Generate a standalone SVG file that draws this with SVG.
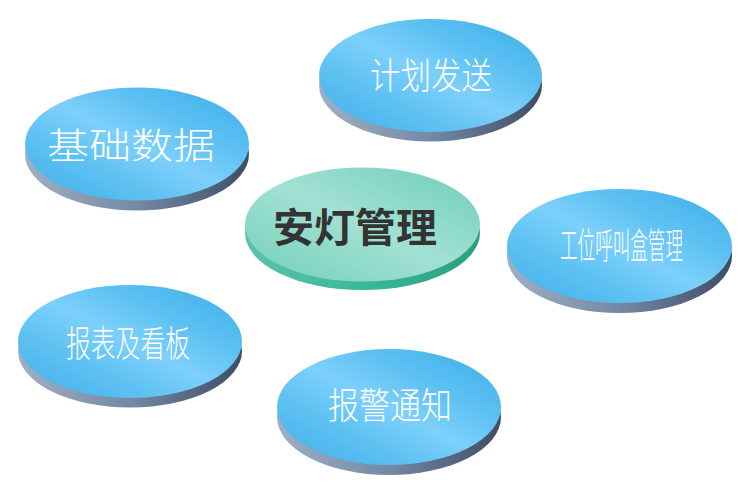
<svg xmlns="http://www.w3.org/2000/svg" width="750" height="490" viewBox="0 0 750 490">
<defs>
<linearGradient id="blueFace" x1="1" y1="0" x2="0" y2="1">
<stop offset="0" stop-color="#3aade7"/>
<stop offset="0.3" stop-color="#5cc0f2"/>
<stop offset="0.5" stop-color="#7dd0fb"/>
<stop offset="0.7" stop-color="#5ec1f2"/>
<stop offset="1" stop-color="#3eaee8"/>
</linearGradient>
<linearGradient id="blueSide" x1="0" y1="0" x2="1" y2="0">
<stop offset="0" stop-color="#9fb0c4"/>
<stop offset="0.5" stop-color="#7489a4"/>
<stop offset="1" stop-color="#3e4d63"/>
</linearGradient>
<linearGradient id="greenFace" x1="1" y1="0" x2="0" y2="1">
<stop offset="0" stop-color="#6ecdb8"/>
<stop offset="0.5" stop-color="#a2e1d3"/>
<stop offset="1" stop-color="#72cfba"/>
</linearGradient>
<linearGradient id="greenSide" x1="0" y1="0" x2="1" y2="0">
<stop offset="0" stop-color="#5cc2a8"/>
<stop offset="0.5" stop-color="#3bb898"/>
<stop offset="1" stop-color="#2a9f80"/>
</linearGradient>
</defs>
<style>
.bs{fill:url(#blueSide)}
.bf{fill:url(#blueFace)}
.gs{fill:url(#greenSide)}
.gf{fill:url(#greenFace)}
.lbl{font-family:"Noto Sans CJK SC","Noto Sans",sans-serif;font-size:36px;fill:#ffffff;text-anchor:middle;font-weight:300}
.small{font-size:20px}
.main{font-family:"Noto Sans CJK SC","Noto Sans",sans-serif;font-size:40px;fill:#333333;text-anchor:middle;font-weight:bold}
</style>
<g id="connectors"></g>
<g id="node-plan">
<ellipse class="bs" cx="430.5" cy="85" rx="111.5" ry="56.5"/>
<ellipse class="bf" cx="430.5" cy="75.5" rx="111.5" ry="56.5"/>
<text class="lbl" x="431" y="89" textLength="122" lengthAdjust="spacingAndGlyphs">计划发送</text>
</g>
<g id="node-basic">
<ellipse class="bs" cx="137" cy="154" rx="112" ry="56.5"/>
<ellipse class="bf" cx="137" cy="144" rx="112" ry="56.5"/>
<text class="lbl" x="131" y="159" textLength="168" lengthAdjust="spacingAndGlyphs">基础数据</text>
</g>
<g id="node-andon">
<ellipse class="gs" cx="362.5" cy="233" rx="117.5" ry="57"/>
<ellipse class="gf" cx="362.5" cy="224.5" rx="117.5" ry="57"/>
<text class="main" x="355" y="242" textLength="164" lengthAdjust="spacingAndGlyphs">安灯管理</text>
</g>
<g id="node-callbox">
<ellipse class="bs" cx="619.5" cy="256" rx="112.5" ry="57"/>
<ellipse class="bf" cx="619.5" cy="246" rx="112.5" ry="57"/>
<text class="lbl small" transform="translate(621.5,259) scale(1,1.8)" x="0" y="0" textLength="123" lengthAdjust="spacingAndGlyphs">工位呼叫盒管理</text>
</g>
<g id="node-report">
<ellipse class="bs" cx="130" cy="351" rx="112" ry="56.5"/>
<ellipse class="bf" cx="130" cy="341.5" rx="112" ry="56.5"/>
<text class="lbl" x="128" y="357" textLength="124" lengthAdjust="spacingAndGlyphs">报表及看板</text>
</g>
<g id="node-alarm">
<ellipse class="bs" cx="389" cy="417" rx="112" ry="58"/>
<ellipse class="bf" cx="389" cy="407" rx="112" ry="58"/>
<text class="lbl" x="390" y="419" textLength="124" lengthAdjust="spacingAndGlyphs">报警通知</text>
</g>
</svg>
